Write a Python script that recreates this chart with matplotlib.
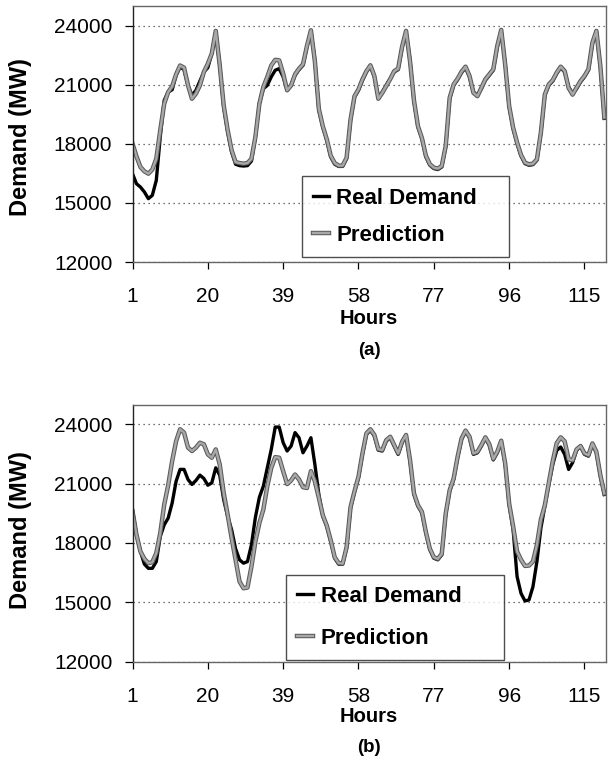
import numpy as np
import matplotlib
matplotlib.use("Agg")
import matplotlib.pyplot as plt
import matplotlib.patheffects as pe

plt.rcParams['font.family'] = ['Liberation Sans', 'DejaVu Sans']

hours = np.arange(1, 121)
xticks = [1, 20, 39, 58, 77, 96, 115]
yticks = [12000, 15000, 18000, 21000, 24000]

real_a = [16490, 15980, 15810, 15560, 15220, 15390, 16150, 18360, 20220, 20640,
          20760, 21490, 21920, 21780, 20980, 20470, 20730, 21200, 21660, 21880,
          22600, 23700, 22000, 19880, 18610, 17590, 16970, 16900, 16880, 16900,
          17130, 18360, 20050, 20810, 20980, 21410, 21750, 21830, 21410, 20730,
          20980, 21490, 21780, 22000, 22930, 23750, 22260, 19710, 18860, 18190,
          17340, 16970, 16860, 16860, 17250, 19200, 20390, 20730, 21240, 21660,
          21950, 21410, 20360, 20640, 20980, 21320, 21660, 21780, 22900, 23700,
          22250, 20140, 18860, 18270, 17340, 16920, 16750, 16700, 16830, 17850,
          20300, 20980, 21270, 21630, 21880, 21410, 20640, 20470, 20810, 21240,
          21490, 21750, 22930, 23750, 22080, 19880, 18780, 18020, 17390, 17000,
          16920, 16950, 17170, 18530, 20470, 20980, 21200, 21580, 21880, 21660,
          20900, 20560, 20810, 21150, 21410, 21750, 23100, 23700, 21920, 19300]

pred_a = [18020, 17370, 16830, 16610, 16490, 16700, 17250, 18700, 20050, 20640,
          20930, 21540, 21990, 21880, 20980, 20300, 20560, 20980, 21660, 22080,
          22600, 23750, 22000, 19960, 18700, 17680, 17080, 17030, 17000, 17030,
          17250, 18360, 20050, 20900, 21410, 21990, 22280, 22250, 21580, 20730,
          20980, 21540, 21830, 22050, 22980, 23780, 22200, 19780, 18900, 18240,
          17400, 17030, 16900, 16900, 17300, 19250, 20430, 20780, 21290, 21700,
          22000, 21460, 20300, 20600, 20950, 21300, 21700, 21830, 22950, 23750,
          22200, 20200, 18900, 18300, 17400, 16970, 16800, 16750, 16880, 17900,
          20350, 21030, 21320, 21680, 21930, 21460, 20600, 20430, 20860, 21290,
          21540, 21800, 22980, 23800, 22030, 19930, 18830, 18070, 17440, 17050,
          16970, 17000, 17220, 18580, 20520, 21030, 21250, 21630, 21930, 21710,
          20850, 20510, 20860, 21200, 21460, 21800, 23150, 23750, 21970, 19350]

real_b = [19690, 18420, 17570, 16930, 16720, 16720, 17060, 18330, 18920, 19260,
          20020, 21120, 21720, 21720, 21210, 20960, 21160, 21430, 21260, 20920,
          21040, 21800, 21430, 20190, 19350, 18670, 17710, 17150, 16980, 17060,
          17910, 19300, 20310, 20870, 21800, 22730, 23860, 23860, 23070, 22650,
          22900, 23580, 23320, 22560, 22900, 23320, 21970, 20450, 19350, 18840,
          18080, 17230, 16930, 16930, 17740, 19770, 20580, 21300, 22480, 23490,
          23700, 23410, 22690, 22650, 23150, 23320, 22900, 22480, 23070, 23410,
          22140, 20450, 19860, 19520, 18500, 17660, 17230, 17150, 17400, 19430,
          20620, 21210, 22310, 23240, 23630, 23320, 22480, 22560, 22900, 23290,
          22940, 22200, 22560, 23120, 21970, 19940, 18670, 16300, 15450, 15070,
          15120, 15790, 17060, 18750, 19860, 20950, 21970, 22680, 22850, 22480,
          21720, 22060, 22680, 22900, 22480, 22390, 22980, 22560, 21380, 20450]

pred_b = [19600, 18420, 17570, 17200, 16980, 17030, 17490, 18500, 19940, 20920,
          22140, 23150, 23750, 23580, 22820, 22650, 22820, 23070, 22990, 22480,
          22310, 22730, 21970, 20530, 19430, 18250, 17150, 16050, 15710, 15750,
          16810, 18080, 19010, 19690, 20870, 21800, 22340, 22310, 21630, 20980,
          21160, 21460, 21210, 20820, 20780, 21630, 21120, 20280, 19400, 18880,
          18130, 17280, 16980, 16960, 17790, 19820, 20620, 21350, 22530, 23540,
          23750, 23460, 22740, 22700, 23200, 23370, 22950, 22530, 23120, 23460,
          22190, 20500, 19910, 19570, 18550, 17710, 17280, 17200, 17450, 19480,
          20670, 21260, 22360, 23290, 23680, 23370, 22530, 22610, 22950, 23340,
          22990, 22250, 22610, 23170, 22020, 19990, 18840, 17570, 17150, 16840,
          16860, 17060, 17910, 19180, 19910, 21040, 22140, 23050, 23340, 23140,
          22230, 22180, 22730, 22900, 22530, 22440, 23030, 22610, 21430, 20500]

W, H = 608, 768
fig = plt.figure(figsize=(W / 100, H / 100), dpi=100)

gray_fx = [pe.Stroke(linewidth=3.2, foreground='#5a5a5a'), pe.Normal()]


def panel(rect, real, pred, leg_box, leg_space):
    ax = fig.add_axes(rect)
    ax.plot(hours, real, color='black', lw=2.4, label='Real Demand')
    ax.plot(hours, pred, color='#a8a8a8', lw=1.7, label='Prediction',
            path_effects=gray_fx)
    ax.set_xlim(1, 120.3)
    ax.set_ylim(12000, 25000)
    ax.set_xticks(xticks)
    ax.set_yticks(yticks)
    ax.yaxis.grid(True, linestyle=(0, (1, 3)), color='#444', lw=0.9)
    ax.tick_params(axis='y', direction='out', length=6, width=0.9,
                   labelsize=15, pad=8.5)
    ax.tick_params(axis='x', direction='out', length=5, width=0.9,
                   labelsize=15, pad=13)
    for s in ax.spines.values():
        s.set_color('#666')
        s.set_linewidth(1.0)
    ax.spines['left'].set_color('#222')
    leg = ax.legend(loc='lower left', bbox_to_anchor=leg_box, mode='expand',
                    frameon=True, fancybox=False, handlelength=0.7,
                    handletextpad=0.35, labelspacing=leg_space,
                    borderpad=0.5, borderaxespad=0,
                    prop={'weight': 'bold', 'size': 16})
    leg.get_frame().set_edgecolor('#222')
    leg.get_frame().set_linewidth(1.0)
    return ax


# panel (a)
panel([132.5 / W, (H - 262) / H, 473 / W, 255.7 / H], real_a, pred_a,
      (0.358, 0.021, 0.439, 0.31), 0.72)
# panel (b)
panel([132.5 / W, (H - 661.7) / H, 473 / W, 257.2 / H], real_b, pred_b,
      (0.325, 0.007, 0.461, 0.338), 0.95)

for yc, yh, yp, lab in [(137, 319, 350, '(a)'), (530, 717, 748, '(b)')]:
    fig.text(21 / W, 1 - yc / H, 'Demand (MW)', rotation=90, ha='center',
             va='center', fontsize=17, fontweight='bold')
    fig.text(369 / W, 1 - yh / H, 'Hours', ha='center', va='center',
             fontsize=14.5, fontweight='bold')
    fig.text(369 / W, 1 - yp / H, lab, ha='center', va='center',
             fontsize=13.5, fontweight='bold')

fig.savefig('out.png', dpi=100)
